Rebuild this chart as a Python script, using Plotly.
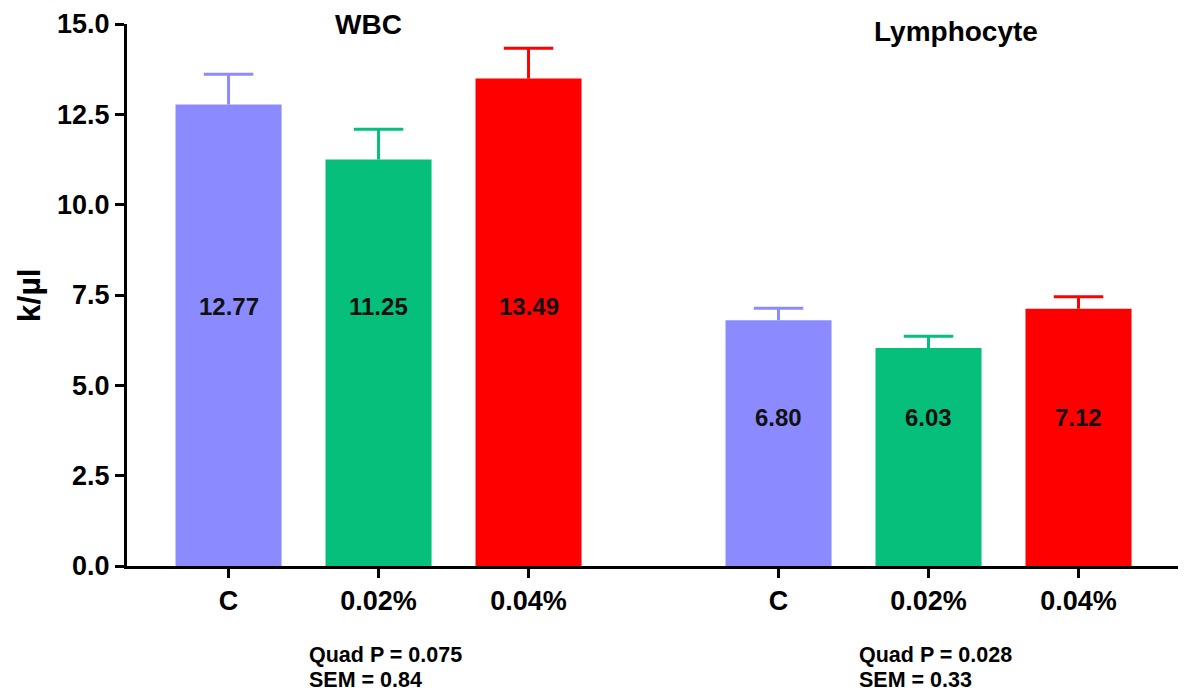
import plotly.graph_objects as go

# Data
groups = ["WBC", "Lymphocyte"]
treatments = ["C", "0.02%", "0.04%"]
wbc_means = [12.77, 11.25, 13.49]
lymph_means = [6.80, 6.03, 7.12]
sem_values = [0.84, 0.33]
quad_p = ["0.075", "0.028"]
y_ticks = [0.0, 2.5, 5.0, 7.5, 10.0, 12.5, 15.0]

colors = ["#8b8bff", "#05bf7b", "#ff0000"]
FONT = "Liberation Sans, Arial, sans-serif"

group_offset = 3.6667  # distance between group starts, in bar slots
bar_width = 0.707
cap_half = 0.165       # half-width of the error-bar cap, in x units
label_level = {"WBC": 7.17, "Lymphocyte": 4.1}

fig = go.Figure()
tickvals, ticktext = [], []
annotations = []

for g, (name, means) in enumerate(zip(groups, [wbc_means, lymph_means])):
    xs = [g * group_offset + i for i in range(len(treatments))]
    tickvals += xs
    ticktext += [f"<b>{t}</b>" for t in treatments]
    for i, (x, m) in enumerate(zip(xs, means)):
        fig.add_trace(go.Bar(
            x=[x], y=[m], width=bar_width,
            marker=dict(color=colors[i], line=dict(width=0)),
            showlegend=False, hoverinfo="skip",
        ))
        # upper-only SEM whisker: stem from the bar top plus a cap
        top = m + sem_values[g]
        fig.add_trace(go.Scatter(
            x=[x, x, None, x - cap_half, x + cap_half],
            y=[m, top, None, top, top],
            mode="lines", line=dict(color=colors[i], width=3),
            showlegend=False, hoverinfo="skip", cliponaxis=False,
        ))
        annotations.append(dict(
            x=x, y=label_level[name], xref="x", yref="y",
            text=f"<b>{m:.2f}</b>", showarrow=False,
            font=dict(family=FONT, size=24, color="#111111"),
        ))
    # group title
    annotations.append(dict(
        x=xs[0] + (0.93 if g == 0 else 1.18), y=(15.0 if g == 0 else 14.8),
        xref="x", yref="y", text=f"<b>{name}</b>", showarrow=False,
        font=dict(family=FONT, size=28, color="black"),
    ))
    # statistics note below the axis, one annotation per line
    for line_text, ypos in ((f"Quad P = {quad_p[g]}", -0.164),
                            (f"SEM = {sem_values[g]:.2f}", -0.210)):
        annotations.append(dict(
            x=xs[0] + 0.52, y=ypos, xref="x", yref="paper",
            xanchor="left", yanchor="middle", align="left",
            text=f"<b>{line_text}</b>", showarrow=False,
            font=dict(family=FONT, size=21.5, color="black"),
        ))

# y-axis title
annotations.append(dict(
    x=-0.112, y=0.5, xref="paper", yref="paper", textangle=-90,
    text="<b>k/µl</b>", showarrow=False,
    font=dict(family=FONT, size=32, color="black"),
))

fig.update_layout(
    width=1184, height=694,
    margin=dict(l=127, r=6, t=24, b=128),
    paper_bgcolor="white", plot_bgcolor="white",
    barmode="overlay",
    annotations=annotations,
    font=dict(family=FONT, color="black"),
)
fig.update_xaxes(
    range=[-0.677, 6.33], tickvals=tickvals, ticktext=ticktext,
    showline=True, linecolor="black", linewidth=3,
    ticks="outside", ticklen=9, tickwidth=3, tickcolor="black",
    tickfont=dict(family=FONT, size=27, color="black"),
    showgrid=False, zeroline=False,
)
fig.update_yaxes(
    range=[0, 15], tickvals=y_ticks,
    ticktext=[f"<b>{v:.1f}</b>" for v in y_ticks],
    showline=True, linecolor="black", linewidth=3,
    ticks="outside", ticklen=9, tickwidth=3, tickcolor="black",
    tickfont=dict(family=FONT, size=27, color="black"),
    showgrid=False, zeroline=False,
)

fig.write_html("out.html")
